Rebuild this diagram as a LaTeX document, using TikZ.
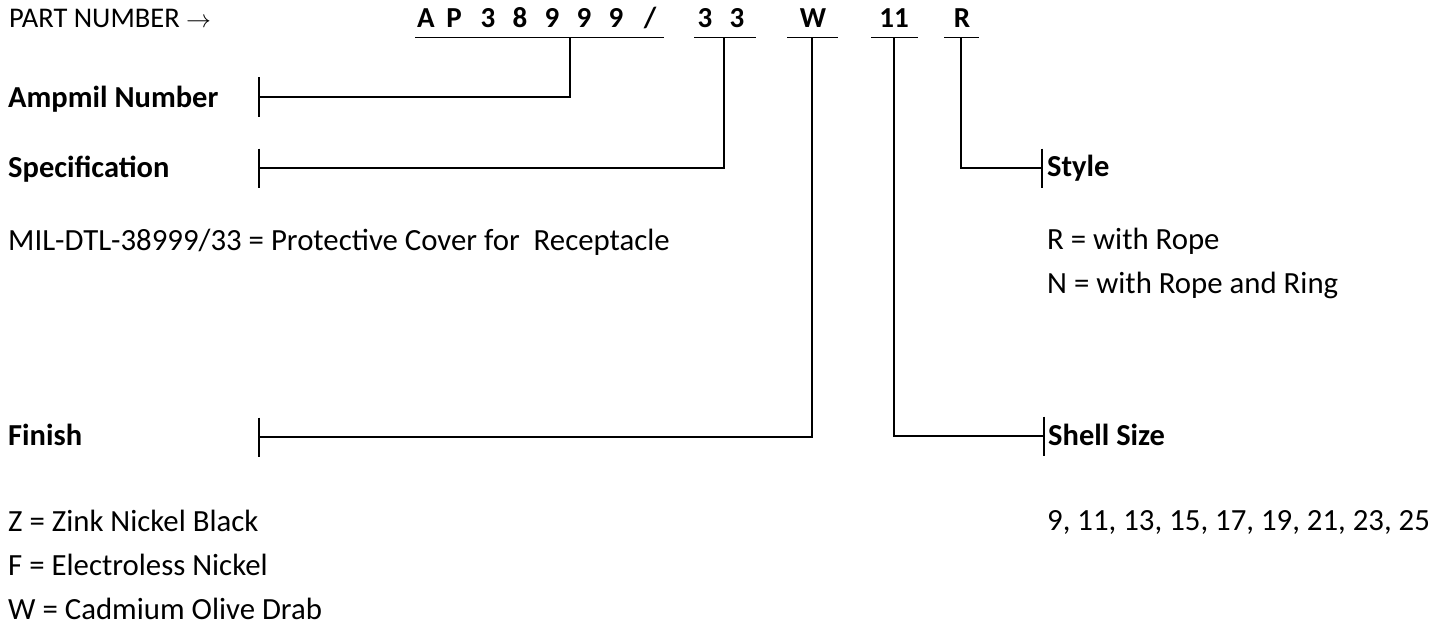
\documentclass[tikz,border=0pt]{standalone}
\usepackage{fontspec}
\setmainfont{Carlito}
\begin{document}
\begin{tikzpicture}[x=1pt,y=-1pt,
  conn/.style={line width=1.4pt, line join=miter},
  tickln/.style={line width=1.4pt},
  uline/.style={line width=1.4pt},
  body/.style={inner sep=0pt, anchor=base west, font=\fontsize{30.8}{36}\selectfont},
  head/.style={inner sep=0pt, anchor=base west, font=\fontsize{30.5}{36}\selectfont\bfseries},
  pch/.style={inner sep=0pt, anchor=base, font=\fontsize{29}{34}\selectfont\bfseries}]
\useasboundingbox (0,0) rectangle (1449,626);

% top line
\node[body, font=\fontsize{28.5}{34}\selectfont] (pn) at (9,28) {PART NUMBER $\rightarrow$};
\foreach \c/\x [count=\i] in {A/426,P/454,3/488,8/520,9/552,9/584,9/616,{/}/650,3/705,3/737,W/813,{11}/894,R/962}{
  \node[pch] (ch\i) at (\x,28) {\c};
}

% underlines
\foreach \a/\b in {415/664,694/756,787/838,871/918,944/979}{
  \draw[uline] (\a,37.5) -- (\b,37.5);
}
\coordinate (jA) at (570,37.5);
\coordinate (jS) at (724,37.5);
\coordinate (jF) at (812,37.5);
\coordinate (jH) at (894,37.5);
\coordinate (jR) at (961,37.5);

% tick points
\coordinate (tA) at (259,97);
\coordinate (tS) at (259,168);
\coordinate (tF) at (259,437);
\coordinate (tH) at (1044,436);
\coordinate (tR) at (1042,168);

% connectors
\draw[conn] (jA) |- (tA);
\draw[conn] (jS) |- (tS);
\draw[conn] (jF) |- (tF);
\draw[conn] (jH) |- (tH);
\draw[conn] (jR) |- (tR);

% ticks
\foreach \t in {tA,tS,tF,tH,tR}{
  \draw[tickln] ([yshift=19.5pt]\t) -- ([yshift=-19.5pt]\t);
}

% left labels
\node[head] (amp) at (8,107) {Ampmil Number};
\node[head] (spec) at (8,177) {Specification};
\node[body] (mil) at (8,250) {MIL-DTL-38999/33 = Protective Cover for~ Receptacle};
\node[head] (fin) at (8,445) {Finish};
\node[body] (z) at (8,531) {Z = Zink Nickel Black};
\node[body] (f) at (8,575) {F = Electroless Nickel};
\node[body] (w) at (8,619) {W = Cadmium Olive Drab};

% right labels
\node[head] (sty) at (1047,176) {Style};
\node[body] (r) at (1047,249) {R = with Rope};
\node[body] (n) at (1047,293) {N = with Rope and Ring};
\node[head] (sh) at (1048,445) {Shell Size};
\node[body] (sz) at (1047,530) {9, 11, 13, 15, 17, 19, 21, 23, 25};
\end{tikzpicture}
\end{document}
